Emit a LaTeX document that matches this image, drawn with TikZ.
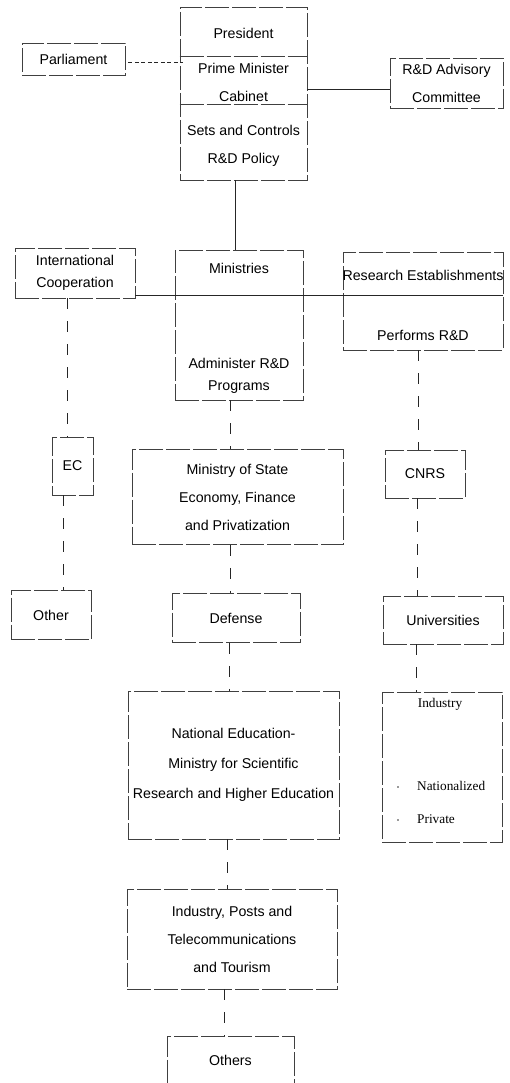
\documentclass[tikz,border=0pt]{standalone}
\usepackage{fontspec}
\setmainfont{Liberation Sans}
\newfontfamily\serifface{Liberation Serif}
\begin{document}
\begin{tikzpicture}[x=1pt,y=-1pt,
  box/.style={draw=black!75, line width=0.65pt, dash pattern=on 24pt off 3pt, inner sep=0pt, anchor=center},
  txt/.style={font=\fontsize{14.2}{28}\selectfont, align=center, inner sep=0pt, anchor=center},
  txtn/.style={font=\fontsize{14.2}{22}\selectfont, align=center, inner sep=0pt, anchor=center},
  stxt/.style={font=\serifface\fontsize{13.3}{20}\selectfont, inner sep=0pt},
  conn/.style={draw=black!85, line width=0.75pt, dash pattern=on 11pt off 12pt},
  solidconn/.style={draw=black!85, line width=0.8pt},
  shortdash/.style={draw=black!85, line width=1pt, dash pattern=on 4pt off 2.5pt},
  dot/.style={circle, fill=black!80, inner sep=0pt, minimum size=1.8pt}
]
\useasboundingbox (0,0) rectangle (510,1083);

% boxes
\node[box, minimum width=127pt, minimum height=173pt] (pres) at (243.5,93.5) {};
\node[box, minimum width=103pt, minimum height=32pt, txt] (parl) at (73.5,59) {Parliament};
\node[box, minimum width=113pt, minimum height=50pt, txt] (adv) at (446.5,83) {R\&D Advisory\\Committee};
\node[box, minimum width=120pt, minimum height=50pt, txtn] (intl) at (75,273) {International\\Cooperation};
\node[box, minimum width=128pt, minimum height=150pt] (min) at (239,325) {};
\node[box, minimum width=160pt, minimum height=98pt] (res) at (423,301) {};
\node[box, minimum width=41pt, minimum height=58pt, txt] (ec) at (72.5,466) {EC};
\node[box, minimum width=211pt, minimum height=95pt, txt] (mos) at (237.5,497) {Ministry of State\\Economy, Finance\\and Privatization};
\node[box, minimum width=80pt, minimum height=48pt, txt] (cnrs) at (425,474) {CNRS};
\node[box, minimum width=80pt, minimum height=49pt, txt] (other) at (51,615) {Other};
\node[box, minimum width=128pt, minimum height=49pt, txt] (def) at (236,618) {Defense};
\node[box, minimum width=120pt, minimum height=48pt, txt] (univ) at (443,620) {Universities};
\node[box, minimum width=211pt, minimum height=148pt, txt, font=\fontsize{14.2}{30}\selectfont] (nated) at (233.5,765) {National Education-\\Ministry for Scientific\\Research and Higher Education};
\node[box, minimum width=120pt, minimum height=150pt] (indr) at (442,767) {};
\node[box, minimum width=210pt, minimum height=100pt, txt] (ipt) at (232,939) {Industry, Posts and\\Telecommunications\\and Tourism};
\node[box, minimum width=127pt, minimum height=47pt, txt] (others) at (230.5,1060) {Others};

% text inside president box
\node[txt] (tpres) at (243.5,33) {President};
\node[txt] (tpm) at (243.5,82) {Prime Minister\\Cabinet};
\node[txt] (tset) at (243.5,146) {Sets and Controls\\R\&D Policy};
\draw[box] ([yshift=-50pt]pres.north west) -- ([yshift=-50pt]pres.north east);
\draw[box] ([yshift=-98pt]pres.north west) -- ([yshift=-98pt]pres.north east);

% ministries and research texts
\node[txt] (tmin) at (239,268) {Ministries};
\node[txtn] (tadm) at (239,376) {Administer R\&D\\Programs};
\node[txt] (tres) at (423,275) {Research Establishments};
\node[txt] (tperf) at (423,335) {Performs R\&D};

% industry (right) texts
\node[stxt, anchor=center] (tind) at (440,704) {Industry};
\node[stxt, anchor=west] (tnat) at (417,786) {Nationalized};
\node[stxt, anchor=west] (tpriv) at (417,819) {Private};
\node[dot] (d1) at (398,787) {};
\node[dot] (d2) at (398,820) {};

% connectors
\draw[shortdash] ([shift={(3pt,-4pt)}]parl.east) -- ([shift={(3pt,-4pt)}]parl.east -| pres.west);
\draw[solidconn] ([yshift=4.5pt]pres.east) -- ([yshift=4.5pt]pres.east -| adv.west);
\draw[solidconn] ([xshift=-8.5pt]pres.south) -- ([xshift=-8.5pt]pres.south |- min.north);
\draw[solidconn] ([yshift=3pt]intl.south east) -- ([yshift=3pt]intl.south east -| res.east);

\draw[conn] ([xshift=-8pt]intl.south) -- ([xshift=-8pt]intl.south |- ec.north);
\draw[conn] ([xshift=-9.5pt]ec.south) -- ([xshift=-9.5pt]ec.south |- other.north);

\draw[conn] ([xshift=-9pt]min.south) -- ([xshift=-9pt]min.south |- mos.north);
\draw[conn] ([xshift=-7.5pt]mos.south) -- ([xshift=-7.5pt]mos.south |- def.north);
\draw[conn] ([xshift=-7pt]def.south) -- ([xshift=-7pt]def.south |- nated.north);
\draw[conn] ([xshift=-6.5pt]nated.south) -- ([xshift=-6.5pt]nated.south |- ipt.north);
\draw[conn] ([xshift=-8pt]ipt.south) -- ([xshift=-8pt]ipt.south |- others.north);

\draw[conn] ([xshift=-5pt]res.south) -- ([xshift=-5pt]res.south |- cnrs.north);
\draw[conn] ([xshift=-8pt]cnrs.south) -- ([xshift=-8pt]cnrs.south |- univ.north);
\draw[conn] ([xshift=-27pt]univ.south) -- ([xshift=-27pt]univ.south |- indr.north);
\end{tikzpicture}
\end{document}
